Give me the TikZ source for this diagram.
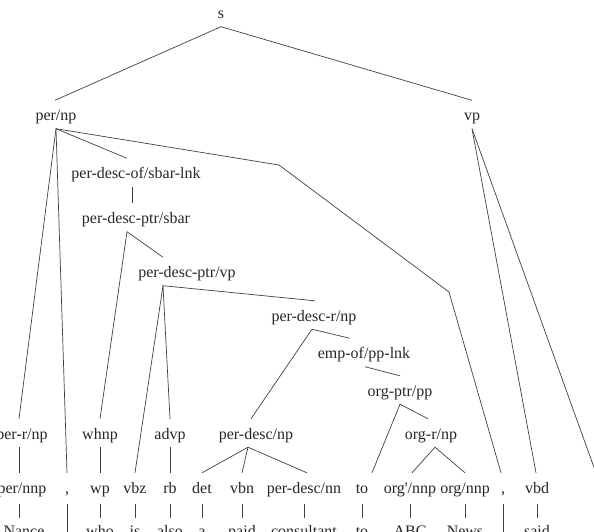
\documentclass[tikz,border=0pt]{standalone}
\usepackage{fontspec}
\setmainfont{Liberation Serif}
\begin{document}
\begin{tikzpicture}[x=1pt,y=1pt,
  lbl/.style={anchor=base, inner sep=0pt, text height=20pt, text depth=8pt,
    font=\fontsize{16}{19}\selectfont, text=black!85},
  posbox/.style={lbl, text depth=11pt},
  wordbox/.style={lbl, text height=18pt},
  cwordbox/.style={lbl, text height=-3pt},
  conn/.style={draw=black!75, line width=0.7pt}]
\useasboundingbox (0,0) rectangle (594,-531);
\clip (0,0) rectangle (594,-531);
% internal nodes
\node[lbl] (s) at (221,-18.5) {s};
\node[lbl] (pernp) at (56,-120.5) {per/np};
\node[lbl] (vp) at (472,-120.5) {vp};
\node[lbl] (pdof) at (136,-178.5) {per-desc-of/sbar-lnk};
\node[lbl] (pdpsbar) at (136,-223.5) {per-desc-ptr/sbar};
\node[lbl] (pdpvp) at (187,-277.5) {per-desc-ptr/vp};
\node[lbl] (pdrnp) at (314,-321) {per-desc-r/np};
\node[lbl] (emp) at (364,-358.5) {emp-of/pp-lnk};
\node[lbl] (orgptr) at (400,-396) {org-ptr/pp};
% row A
\node[lbl] (perrnp) at (22,-439) {per-r/np};
\node[lbl] (whnp) at (100,-439) {whnp};
\node[lbl] (advp) at (170,-439) {advp};
\node[lbl] (pdnp) at (256,-439) {per-desc/np};
\node[lbl] (orgrnp) at (431,-439) {org-r/np};
% row B
\node[posbox] (pernnp) at (22,-493) {per/nnp};
\node[posbox] (c1) at (67,-493) {,};
\node[posbox] (wp) at (100,-493) {wp};
\node[posbox] (vbz) at (135,-493) {vbz};
\node[posbox] (rb) at (170,-493) {rb};
\node[posbox] (det) at (202,-493) {det};
\node[posbox] (vbn) at (242,-493) {vbn};
\node[posbox] (pdnn) at (304,-493) {per-desc/nn};
\node[posbox] (tot) at (362,-493) {to};
\node[posbox] (orgpnnp) at (410,-493) {org\textquotesingle/nnp};
\node[posbox] (orgnnp) at (465,-493) {org/nnp};
\node[posbox] (c2) at (503,-493) {,};
\node[posbox] (vbd) at (537,-493) {vbd};
\coordinate (dot) at (596,-473);
% row C (words)
\node[wordbox] (w1) at (24,-536) {Nance};
\node[cwordbox] (w2) at (67,-536) {,};
\node[wordbox] (w3) at (100,-536) {who};
\node[wordbox] (w4) at (135,-536) {is};
\node[wordbox] (w5) at (170,-536) {also};
\node[wordbox] (w6) at (202,-536) {a};
\node[wordbox] (w7) at (242,-536) {paid};
\node[wordbox] (w8) at (304,-536) {consultant};
\node[wordbox] (w9) at (362,-536) {to};
\node[wordbox] (w10) at (410,-536) {ABC};
\node[wordbox] (w11) at (465,-536) {News};
\node[cwordbox] (w12) at (503,-536) {,};
\node[wordbox] (w13) at (537,-536) {said};
% bend points of the long edge
\coordinate (b1) at (279,-165);
\coordinate (b2) at (449,-292);
% edges
\path[conn] (s.south) -- ([xshift=-1pt]pernp.north);
\path[conn] (s.south) -- (vp.north);
\path[conn] (pernp.south) -- ([xshift=-3pt]perrnp.north);
\path[conn] (pernp.south) -- (c1.north);
\path[conn] (pernp.south) -- ([xshift=-9pt]pdof.north);
\path[conn] (pernp.south) -- (b1) -- (b2) -- ([xshift=-2pt]c2.north);
\path[conn] ([xshift=-4pt]pdof.south) -- ([xshift=-4pt]pdpsbar.north);
\path[conn] ([xshift=-9pt]pdpsbar.south) -- (whnp.north);
\path[conn] ([xshift=-9pt]pdpsbar.south) -- ([xshift=-24pt]pdpvp.north);
\path[conn] ([xshift=-24pt]pdpvp.south) -- (vbz.north);
\path[conn] ([xshift=-24pt]pdpvp.south) -- (advp.north);
\path[conn] ([xshift=-24pt]pdpvp.south) -- ([xshift=1pt]pdrnp.north);
\path[conn] ([xshift=-2pt]pdrnp.south) -- ([xshift=-5pt]pdnp.north);
\path[conn] ([xshift=-2pt]pdrnp.south) -- ([xshift=-14pt]emp.north);
\path[conn] ([xshift=1pt]emp.south) -- (orgptr.north);
\path[conn] (orgptr.south) -- ([xshift=10pt]tot.north);
\path[conn] (orgptr.south) -- ([xshift=-3pt]orgrnp.north);
\path[conn] ([xshift=4pt]orgrnp.south) -- ([xshift=2pt]orgpnnp.north);
\path[conn] ([xshift=4pt]orgrnp.south) -- (orgnnp.north);
\path[conn] ([xshift=-8pt]pdnp.south) -- (det.north);
\path[conn] ([xshift=-8pt]pdnp.south) -- (vbn.north);
\path[conn] ([xshift=-8pt]pdnp.south) -- ([xshift=3pt]pdnn.north);
\path[conn] ([xshift=-3pt]perrnp.south) -- ([xshift=-3pt]pernnp.north);
\path[conn] (whnp.south) -- (wp.north);
\path[conn] (advp.south) -- (rb.north);
\path[conn] (vp.south) -- ([xshift=-1pt]vbd.north);
\path[conn] (vp.south) -- (dot);
% pre-terminal to word
\path[conn] ([xshift=-3pt]pernnp.south) -- ([xshift=-5pt]w1.north);
\path[conn] (c1.south) -- (w2.north);
\path[conn] (wp.south) -- (w3.north);
\path[conn] (vbz.south) -- (w4.north);
\path[conn] (rb.south) -- (w5.north);
\path[conn] (det.south) -- (w6.north);
\path[conn] (vbn.south) -- (w7.north);
\path[conn] (pdnn.south) -- (w8.north);
\path[conn] (tot.south) -- (w9.north);
\path[conn] (orgpnnp.south) -- (w10.north);
\path[conn] (orgnnp.south) -- (w11.north);
\path[conn] (c2.south) -- (w12.north);
\path[conn] (vbd.south) -- (w13.north);
\end{tikzpicture}
\end{document}
